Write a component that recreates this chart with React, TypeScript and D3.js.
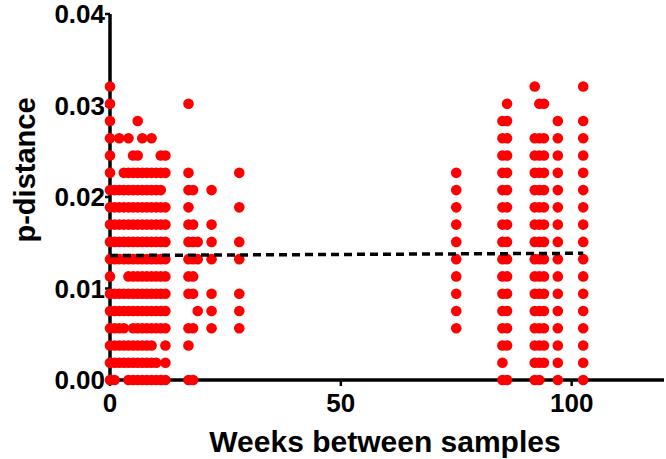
import React from "react";
import * as d3 from "d3";

// Sequence length used for p-distance (step between discrete levels)
const SEQ_LENGTH = 530;

// Weeks between samples (x positions of the columns)
const weeks = [0, 1, 2, 3, 4, 5, 6, 7, 8, 9, 10, 11, 12, 17, 18, 19, 22, 28, 75, 85, 86, 92, 93, 94, 97, 102.5];

// Number of differing sites observed in each column (p-distance = n / SEQ_LENGTH)
const differences: number[][] = [
  [0, 1, 2, 3, 4, 5, 6, 7, 8, 9, 10, 11, 12, 13, 14, 15, 16, 17],
  [0, 1, 2, 3, 4, 5, 7, 8, 9, 10, 11],
  [1, 2, 3, 4, 5, 7, 8, 9, 10, 11, 14],
  [1, 2, 3, 4, 5, 7, 8, 9, 10, 11, 12],
  [0, 1, 2, 4, 5, 6, 7, 8, 9, 10, 11, 12, 14],
  [0, 1, 2, 3, 4, 5, 6, 7, 8, 9, 10, 11, 12, 13],
  [0, 1, 2, 3, 4, 5, 6, 7, 8, 9, 10, 11, 12, 13, 15],
  [0, 1, 2, 3, 4, 5, 6, 7, 8, 9, 10, 11, 12, 14],
  [0, 1, 2, 3, 4, 5, 6, 7, 8, 9, 10, 11, 12],
  [0, 1, 2, 3, 4, 5, 6, 7, 8, 9, 10, 11, 12, 14],
  [0, 1, 3, 4, 5, 6, 7, 8, 9, 10, 11, 12],
  [0, 3, 4, 5, 6, 7, 8, 9, 10, 11, 12, 13],
  [0, 1, 2, 3, 4, 5, 6, 7, 8, 9, 10, 12, 13],
  [0, 2, 3, 5, 6, 7, 8, 9, 10, 11, 12, 16],
  [0, 3, 5, 6, 7, 8, 9, 11],
  [4, 7, 8],
  [3, 4, 5, 7, 8, 9, 11],
  [3, 4, 5, 7, 8, 10, 12],
  [3, 4, 5, 6, 7, 8, 9, 10, 11, 12],
  [0, 1, 2, 3, 4, 5, 6, 7, 8, 9, 10, 11, 12, 13, 14, 15],
  [0, 2, 3, 4, 5, 6, 7, 8, 9, 10, 11, 12, 13, 14, 15, 16],
  [0, 1, 2, 3, 4, 5, 6, 7, 8, 9, 10, 11, 12, 13, 14, 17],
  [0, 1, 2, 3, 4, 5, 6, 7, 8, 9, 10, 11, 12, 13, 14, 16],
  [1, 2, 3, 4, 5, 6, 7, 8, 9, 10, 11, 12, 13, 14, 16],
  [0, 1, 2, 3, 4, 5, 6, 7, 8, 9, 10, 11, 12, 13, 14, 15],
  [0, 1, 2, 3, 4, 5, 6, 7, 8, 9, 10, 11, 12, 13, 14, 15, 17],
];

// Linear regression line (start/end)
const fitX = [0, 102.5];
const fitY = [0.0136, 0.01385];

const xTicks = [0, 50, 100];
const yTicks = [0, 0.01, 0.02, 0.03, 0.04];

export default function App() {
  const W = 666;
  const H = 459;
  const x = d3.scaleLinear().domain([0, 120]).range([110, 664]);
  const y = d3.scaleLinear().domain([0, 0.04]).range([380, 14]);

  const points: { wx: number; p: number }[] = [];
  weeks.forEach((wk, i) => {
    differences[i].forEach((n) => points.push({ wx: wk, p: n / SEQ_LENGTH }));
  });

  const font = "'Liberation Sans', Arial, sans-serif";
  const fitLine = d3.line<number>()
    .x((_, i) => x(fitX[i]))
    .y((d) => y(d))(fitY) as string;

  return (
    <div style={{ position: "absolute", left: 0, top: 0 }}>
      <svg width={W} height={H} style={{ display: "block", background: "#fff" }}>
        {/* axes */}
        <line x1={x(0)} x2={x(120)} y1={y(0)} y2={y(0)} stroke="#000" strokeWidth={3.5} />
        <line x1={x(0)} x2={x(0)} y1={y(0) + 1.5} y2={y(0.04)} stroke="#000" strokeWidth={3.5} />
        {yTicks.map((t) => (
          <g key={"y" + t}>
            <line x1={x(0) - 5} x2={x(0)} y1={y(t)} y2={y(t)} stroke="#000" strokeWidth={2.5} />
            <text
              x={x(0) - 5}
              y={y(t) + 9}
              textAnchor="end"
              fontFamily={font}
              fontWeight="bold"
              fontSize={26}
              fill="#000"
            >
              {d3.format(".2f")(t)}
            </text>
          </g>
        ))}
        {xTicks.map((t) => (
          <g key={"x" + t}>
            <line x1={x(t)} x2={x(t)} y1={y(0)} y2={y(0) + 6} stroke="#000" strokeWidth={2.5} />
            <text
              x={x(t)}
              y={412}
              textAnchor="middle"
              fontFamily={font}
              fontWeight="bold"
              fontSize={26}
              fill="#000"
            >
              {t}
            </text>
          </g>
        ))}
        {/* points */}
        {points.map((d, i) => (
          <circle key={i} cx={x(d.wx)} cy={y(d.p)} r={5.3} fill="#ff0000" />
        ))}
        {/* regression line */}
        <path d={fitLine} fill="none" stroke="#000" strokeWidth={3.5} strokeDasharray="8,5" />
        {/* titles */}
        <text
          x={385}
          y={452}
          textAnchor="middle"
          fontFamily={font}
          fontWeight="bold"
          fontSize={30}
          fill="#000"
        >
          Weeks between samples
        </text>
        <text
          transform={`translate(35,170) rotate(-90)`}
          textAnchor="middle"
          fontFamily={font}
          fontWeight="bold"
          fontSize={29}
          fill="#000"
        >
          p-distance
        </text>
      </svg>
    </div>
  );
}
